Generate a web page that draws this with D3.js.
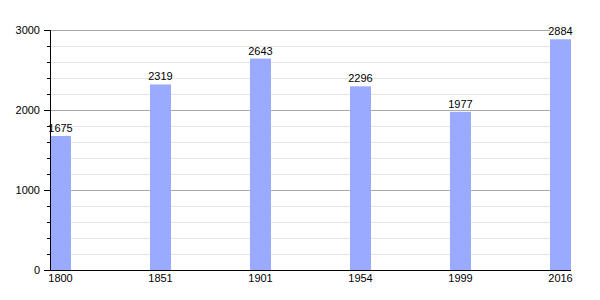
<!DOCTYPE html>
<html>
<head>
<meta charset="utf-8">
<script src="https://cdn.jsdelivr.net/npm/d3@7"></script>
<style>
  body { margin: 0; background: #fff; }
  text { font-family: "Liberation Sans", Arial, sans-serif; fill: #000; }
</style>
</head>
<body>
<div id="chart"></div>
<script>
// data
var years = ["1800", "1851", "1901", "1954", "1999", "2016"];
var population = [1675, 2319, 2643, 2296, 1977, 2884];
var yTicks = [0, 1000, 2000, 3000];

// dimensions of the plot area
var margin = { top: 30, right: 29, bottom: 30, left: 50 };
var width = 600 - margin.left - margin.right,
    height = 300 - margin.top - margin.bottom;

var svg = d3.select("#chart").append("svg")
    .attr("width", 600)
    .attr("height", 300)
    .append("g")
    .attr("transform", "translate(" + margin.left + "," + margin.top + ")");

// scales
var x = d3.scaleBand().domain(years).range([0, width]).paddingInner(0.79).paddingOuter(0);
var y = d3.scaleLinear().domain([0, 3000]).range([height, 0]);

// gridlines: light every 200, darker every 1000
var minor = d3.range(200, 3001, 200).filter(function (d) { return d % 1000 !== 0; });
svg.selectAll(".minor")
    .data(minor)
    .enter().append("line")
    .attr("x1", 0).attr("x2", 500)
    .attr("y1", function (d) { return y(d) + 0.5; })
    .attr("y2", function (d) { return y(d) + 0.5; })
    .style("stroke", "#e4e4e4");

svg.selectAll(".major")
    .data(yTicks.slice(1))
    .enter().append("line")
    .attr("x1", 0).attr("x2", 500)
    .attr("y1", function (d) { return y(d) + 0.5; })
    .attr("y2", function (d) { return y(d) + 0.5; })
    .style("stroke", "#a8a8a8");

// bars
svg.selectAll(".bar")
    .data(population)
    .enter().append("rect")
    .attr("x", function (d, i) { return x(years[i]); })
    .attr("width", x.bandwidth())
    .attr("y", function (d) { return y(d); })
    .attr("height", function (d) { return height - y(d); })
    .style("fill", "#99aaff");

// value labels
svg.selectAll(".val")
    .data(population)
    .enter().append("text")
    .attr("x", function (d, i) { return x(years[i]) + x.bandwidth() / 2; })
    .attr("y", function (d) { return y(d) - 4; })
    .style("text-anchor", "middle")
    .style("font-size", "11px")
    .text(function (d) { return d; });

// y axis with minor ticks
var yAxis = svg.append("g")
    .call(d3.axisLeft(y).tickValues(yTicks).tickFormat(d3.format("d")).tickSize(6).tickPadding(4));
svg.append("g")
    .call(d3.axisLeft(y).tickValues(minor).tickSize(3).tickFormat(""))
    .select(".domain").remove();
yAxis.selectAll("text").style("font-size", "11px");

// x axis
var xAxis = svg.append("g")
    .attr("transform", "translate(0," + height + ")")
    .call(d3.axisBottom(x).tickSize(0).tickPadding(4));
xAxis.select(".domain").attr("d", "M0.5,0.5H" + width);
xAxis.selectAll("text").style("font-size", "11px");

svg.selectAll(".domain").style("stroke", "#000");
</script>
</body>
</html>
